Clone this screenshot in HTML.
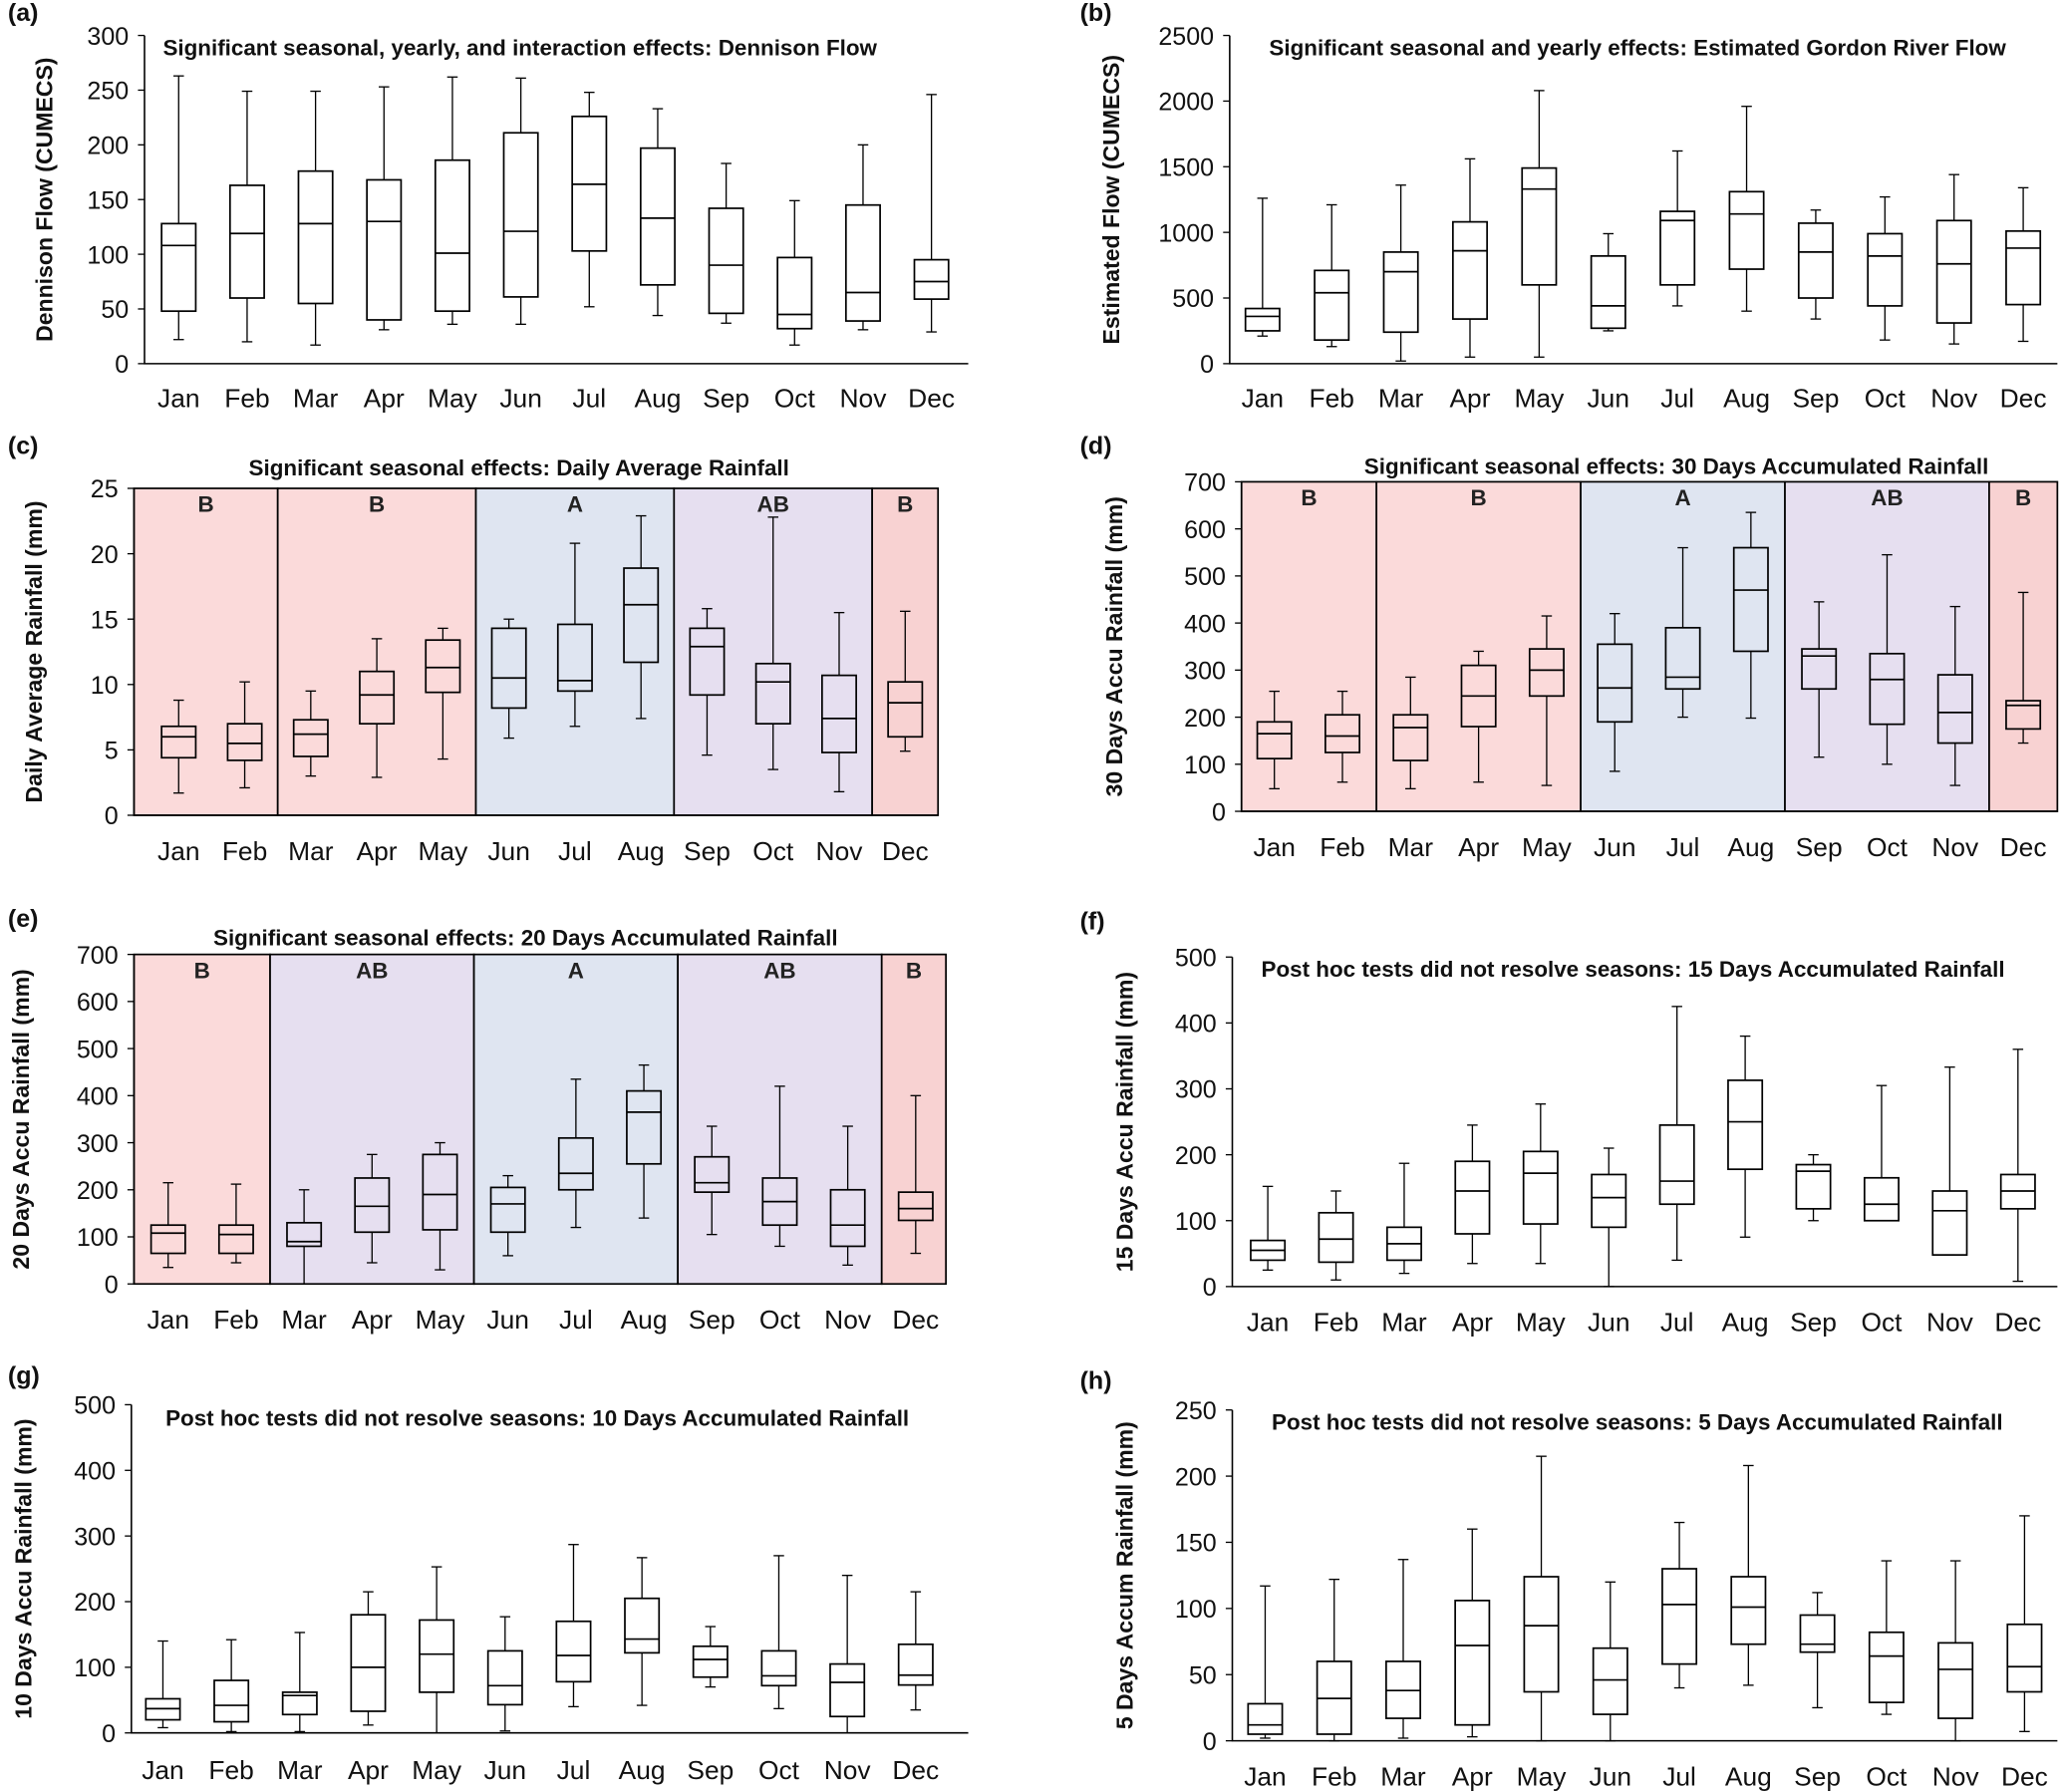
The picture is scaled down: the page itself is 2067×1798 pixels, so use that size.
<!DOCTYPE html>
<html><head><meta charset="utf-8"><style>
html,body{margin:0;padding:0;background:#fff;}
svg{display:block;font-family:"Liberation Sans",Arial,sans-serif;}
</style></head><body>
<svg id="fig" width="2067" height="1798" viewBox="0 0 1568 1365" preserveAspectRatio="none" xmlns="http://www.w3.org/2000/svg"></svg>
<script>
const months = ["Jan","Feb","Mar","Apr","May","Jun","Jul","Aug","Sep","Oct","Nov","Dec"];
// [min, q1, median, q3, max] per month
const dennisonFlow = [[22,48,108,128,263],[20,60,119,163,249],[17,55,128,176,249],[31,40,130,168,253],[36,48,101,186,262],[36,61,121,211,261],[52,103,164,226,248],[44,72,133,197,233],[37,46,90,142,183],[17,32,45,97,149],[31,39,65,145,200],[29,59,75,95,246]];
const gordonFlow = [[210,250,360,420,1260],[130,180,540,710,1210],[20,240,700,850,1360],[50,340,860,1080,1560],[50,600,1330,1490,2080],[250,270,440,820,990],[440,600,1090,1160,1620],[400,720,1140,1310,1960],[340,500,850,1070,1170],[180,440,820,990,1270],[150,310,760,1090,1440],[170,450,880,1010,1340]];
const dailyRain = [[1.7,4.4,6,6.8,8.8],[2.1,4.2,5.5,7,10.2],[3,4.5,6.2,7.3,9.5],[2.9,7,9.2,11,13.5],[4.3,9.4,11.3,13.4,14.3],[5.9,8.2,10.5,14.3,15],[6.8,9.5,10.3,14.6,20.8],[7.4,11.7,16.1,18.9,22.9],[4.6,9.2,12.9,14.3,15.8],[3.5,7,10.2,11.6,22.8],[1.8,4.8,7.4,10.7,15.5],[4.9,6,8.6,10.2,15.6]];
const rain30 = [[48,112,165,190,255],[62,125,160,205,255],[48,108,178,205,285],[62,180,245,310,340],[55,245,300,345,415],[85,190,262,355,420],[200,260,285,390,560],[198,340,470,560,635],[115,260,330,345,445],[100,185,280,335,545],[55,145,210,290,435],[145,175,225,235,465]];
const rain20 = [[35,65,108,125,215],[45,65,105,125,212],[0,80,90,130,200],[45,110,165,225,275],[30,115,190,275,300],[60,110,170,205,230],[120,200,235,310,435],[140,255,365,410,465],[105,195,215,270,335],[80,125,175,225,420],[40,80,125,200,335],[65,135,160,195,400]];
const rain15 = [[25,40,55,70,152],[10,37,72,112,145],[20,40,65,90,187],[35,80,145,190,245],[35,95,172,205,277],[0,90,135,170,210],[40,125,160,245,425],[75,178,250,313,380],[100,118,175,185,200],[100,100,125,165,305],[48,48,115,145,333],[8,118,145,170,360]];
const rain10 = [[8,20,37,52,140],[2,17,42,80,142],[2,28,57,62,153],[12,33,100,180,215],[0,62,120,172,253],[3,43,72,125,177],[40,78,118,170,287],[42,122,143,205,267],[70,85,112,132,162],[37,72,87,125,270],[0,25,77,105,240],[35,73,88,135,215]];
const rain5 = [[2,5,12,28,117],[0,5,32,60,122],[2,17,38,60,137],[3,12,72,106,160],[0,37,87,124,215],[0,20,46,70,120],[40,58,103,130,165],[42,73,101,124,208],[25,67,73,95,112],[20,29,64,82,136],[0,17,54,74,136],[7,37,56,88,170]];
const ticksA=[0,50,100,150,200,250,300], ticksB=[0,500,1000,1500,2000,2500], ticksC=[0,5,10,15,20,25], ticks700=[0,100,200,300,400,500,600,700], ticks500=[0,100,200,300,400,500], ticks250=[0,50,100,150,200,250];
const seasonsC=[{l:"B",a:0,b:2,c:"#fbdada"},{l:"B",a:2,b:5,c:"#fbdada"},{l:"A",a:5,b:8,c:"#dfe5f1"},{l:"AB",a:8,b:11,c:"#e6dff0"},{l:"B",a:11,b:12,c:"#f8d2d2"}];
const seasonsE=[{l:"B",a:0,b:2,c:"#fbdada"},{l:"AB",a:2,b:5,c:"#e6dff0"},{l:"A",a:5,b:8,c:"#dfe5f1"},{l:"AB",a:8,b:11,c:"#e6dff0"},{l:"B",a:11,b:12,c:"#f8d2d2"}];

const panels=[
 {id:"a",data:dennisonFlow,ticks:ticksA,max:300,x0:110,x1:737,y0:277,y1:27,j0:136,j1:709,title:"Significant seasonal, yearly, and interaction effects: Dennison Flow",tx:124,ty:42,ta:"start",yl:"Dennison Flow (CUMECS)",ylx:40,lx:6,ly:16,mly:310},
 {id:"b",data:gordonFlow,ticks:ticksB,max:2500,x0:936,x1:1566,y0:277,y1:27,j0:961,j1:1540,title:"Significant seasonal and yearly effects: Estimated Gordon River Flow",tx:966,ty:42,ta:"start",yl:"Estimated Flow (CUMECS)",ylx:852,lx:822,ly:16,mly:310},
 {id:"c",data:dailyRain,ticks:ticksC,max:25,x0:102,x1:714,y0:621,y1:372,j0:136,j1:689,title:"Significant seasonal effects: Daily Average Rainfall",tx:395,ty:362,ta:"middle",yl:"Daily Average Rainfall (mm)",ylx:32,lx:6,ly:346,mly:655,seasons:seasonsC},
 {id:"d",data:rain30,ticks:ticks700,max:700,x0:945,x1:1566,y0:618,y1:367,j0:970,j1:1540,title:"Significant seasonal effects: 30 Days Accumulated Rainfall",tx:1276,ty:361,ta:"middle",yl:"30 Days Accu Rainfall (mm)",ylx:854,lx:822,ly:346,mly:652,seasons:seasonsC},
 {id:"e",data:rain20,ticks:ticks700,max:700,x0:102,x1:720,y0:978,y1:727,j0:128,j1:697,title:"Significant seasonal effects: 20 Days Accumulated Rainfall",tx:400,ty:720,ta:"middle",yl:"20 Days Accu Rainfall (mm)",ylx:22,lx:6,ly:706,mly:1012,seasons:seasonsE},
 {id:"f",data:rain15,ticks:ticks500,max:500,x0:938,x1:1566,y0:980,y1:729,j0:965,j1:1536,title:"Post hoc tests did not resolve seasons: 15 Days Accumulated Rainfall",tx:960,ty:744,ta:"start",yl:"15 Days Accu Rainfall (mm)",ylx:862,lx:822,ly:708,mly:1014},
 {id:"g",data:rain10,ticks:ticks500,max:500,x0:100,x1:737,y0:1320,y1:1070,j0:124,j1:697,title:"Post hoc tests did not resolve seasons: 10 Days Accumulated Rainfall",tx:126,ty:1086,ta:"start",yl:"10 Days Accu Rainfall (mm)",ylx:24,lx:6,ly:1054,mly:1355},
 {id:"h",data:rain5,ticks:ticks250,max:250,x0:938,x1:1566,y0:1326,y1:1074,j0:963,j1:1541,title:"Post hoc tests did not resolve seasons: 5 Days Accumulated Rainfall",tx:968,ty:1089,ta:"start",yl:"5 Days Accum Rainfall (mm)",ylx:862,lx:822,ly:1058,mly:1360}
];
const NS="http://www.w3.org/2000/svg";
const fig=document.getElementById("fig");
function mk(tag,attrs,parent){const e=document.createElementNS(NS,tag);for(const k in attrs)e.setAttribute(k,attrs[k]);(parent||fig).appendChild(e);return e;}
panels.forEach(p=>{
 const g=mk("g",{});
 
 
 const ys=v=>p.y0-(v/p.max)*(p.y0-p.y1);
 const step=(p.j1-p.j0)/11;
 const xs=i=>p.j0+i*step;
 if(p.seasons){
  p.seasons.forEach(s=>{
   const xa=s.a===0?p.x0:(xs(s.a-1)+xs(s.a))/2, xb=s.b===12?p.x1:(xs(s.b-1)+xs(s.b))/2;
   const r=mk("rect",{x:xa,y:p.y1,width:xb-xa,height:p.y0-p.y1,fill:s.c,stroke:"#000","stroke-width":1.3},g);
   
   
   const t=mk("text",{x:(xa+xb)/2,y:p.y1+18,"text-anchor":"middle","font-size":17,"font-weight":"bold",fill:"#222"},g);
   t.textContent=s.l;
   
   
  });
 }
 const ax=mk("path",{d:`M${p.x0},${p.y1}V${p.y0}H${p.x1}`,stroke:"#000","stroke-width":1.2,fill:"none"},g);
 
 
 p.ticks.forEach(v=>{
  mk("line",{x1:p.x0-5,x2:p.x0,y1:ys(v),y2:ys(v),stroke:"#000"},g);
  const t=mk("text",{x:p.x0-12,y:ys(v)+7,"text-anchor":"end","font-size":19,fill:"#111"},g);
  t.textContent=v;
  
  
 });
 months.forEach((m,i)=>{
  const t=mk("text",{x:xs(i),y:p.mly,"text-anchor":"middle","font-size":20,fill:"#111"},g);
  t.textContent=m;
  
  
  const d=p.data[i], w=13, x=xs(i);
  const bx=mk("g",{},g);
  
  
  mk("line",{x1:x,x2:x,y1:ys(d[0]),y2:ys(d[1]),stroke:"#000","stroke-width":1},bx);
  mk("line",{x1:x,x2:x,y1:ys(d[3]),y2:ys(d[4]),stroke:"#000","stroke-width":1},bx);
  mk("line",{x1:x-4,x2:x+4,y1:ys(d[0]),y2:ys(d[0]),stroke:"#000"},bx);
  mk("line",{x1:x-4,x2:x+4,y1:ys(d[4]),y2:ys(d[4]),stroke:"#000"},bx);
  mk("rect",{x:x-w,y:ys(d[3]),width:2*w,height:ys(d[1])-ys(d[3]),fill:"none",stroke:"#000","stroke-width":1.3},bx);
  mk("line",{x1:x-w,x2:x+w,y1:ys(d[2]),y2:ys(d[2]),stroke:"#000","stroke-width":1.3},bx);
 });
 const tt=mk("text",{x:p.tx,y:p.ty,"text-anchor":p.ta,"font-size":17,"font-weight":"bold",fill:"#111"},g);
 tt.textContent=p.title;
 
 
 const cy=(p.y0+p.y1)/2;
 const yl=mk("text",{x:p.ylx,y:cy,transform:`rotate(-90 ${p.ylx} ${cy})`,"text-anchor":"middle","font-size":17.5,"font-weight":"bold",fill:"#111"},g);
 yl.textContent=p.yl;
 
 
 const lt=mk("text",{x:p.lx,y:p.ly,"font-size":19,"font-weight":"bold",fill:"#111"},g);
 lt.textContent="("+p.id+")";
 
 
});
</script>
</body></html>
